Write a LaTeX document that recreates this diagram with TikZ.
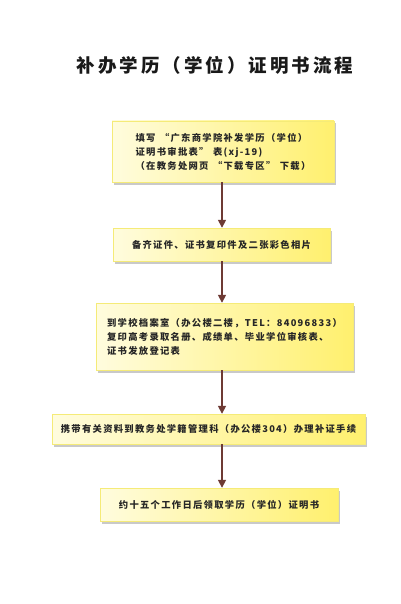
\documentclass[tikz,border=0pt]{standalone}
\usepackage{fontspec}
\newfontfamily\cjk{Noto Sans CJK SC}[LetterSpace=14]
\newfontfamily\cjktitle{Noto Sans CJK SC}[LetterSpace=16]
\newcommand\qopen{\hspace{4.5pt}“}
\newcommand\qclose{”\hspace{4.5pt}}
\usetikzlibrary{arrows.meta,shadows}
\definecolor{boxleft}{RGB}{255,252,222}
\definecolor{boxright}{RGB}{255,240,110}
\definecolor{boxedge}{RGB}{245,235,120}
\definecolor{arrowc}{RGB}{110,58,52}
\tikzset{
  stepbox/.style={shading=axis, left color=boxleft, right color=boxright,
    draw=boxedge, line width=0.4pt, inner sep=0pt,
    font=\cjk\bfseries\fontsize{9.3}{14}\selectfont, text=black!85,
    drop shadow={shadow xshift=2pt, shadow yshift=-2.5pt, opacity=0.35, fill=black!60}},
  flow/.style={draw=arrowc, line width=1.6pt, -{Triangle[width=8pt,length=8pt]}, color=arrowc}
}
\begin{document}
\begin{tikzpicture}[x=1pt,y=-1pt]
\useasboundingbox[fill=white] (0,0) rectangle (400,604);
\node[font=\cjktitle\bfseries\fontsize{18.5}{20}\selectfont, text=black!90] (title) at (215,65) {补办学历（学位）证明书流程};

\node[stepbox, minimum width=222pt, minimum height=61pt, align=left] (b1) at (223,151.5)
  {填写\qopen 广东商学院补发学历（学位）\\证明书审批表\qclose 表(xj-19)\\（在教务处网页\qopen 下载专区\qclose 下载）};
\node[stepbox, minimum width=217pt, minimum height=33pt] (b2) at (221.5,244.5)
  {备齐证件、证书复印件及二张彩色相片};
\node[stepbox, minimum width=257pt, minimum height=67pt, align=left] (b3) at (224.5,336.5)
  {到学校档案室（办公楼二楼，TEL：84096833）\\复印高考录取名册、成绩单、毕业学位审核表、\\证书发放登记表};
\node[stepbox, minimum width=313pt, minimum height=30pt] (b4) at (208.5,429)
  {携带有关资料到教务处学籍管理科（办公楼304）办理补证手续};
\node[stepbox, minimum width=238pt, minimum height=33pt] (b5) at (219,504.5)
  {约十五个工作日后领取学历（学位）证明书};

\coordinate (ax) at (222,0);
\draw[flow] (b1.south -| ax) -- (b2.north -| ax);
\draw[flow] (b2.south -| ax) -- (b3.north -| ax);
\draw[flow] (b3.south -| ax) -- (b4.north -| ax);
\draw[flow] (b4.south -| ax) -- (b5.north -| ax);
\end{tikzpicture}
\end{document}
